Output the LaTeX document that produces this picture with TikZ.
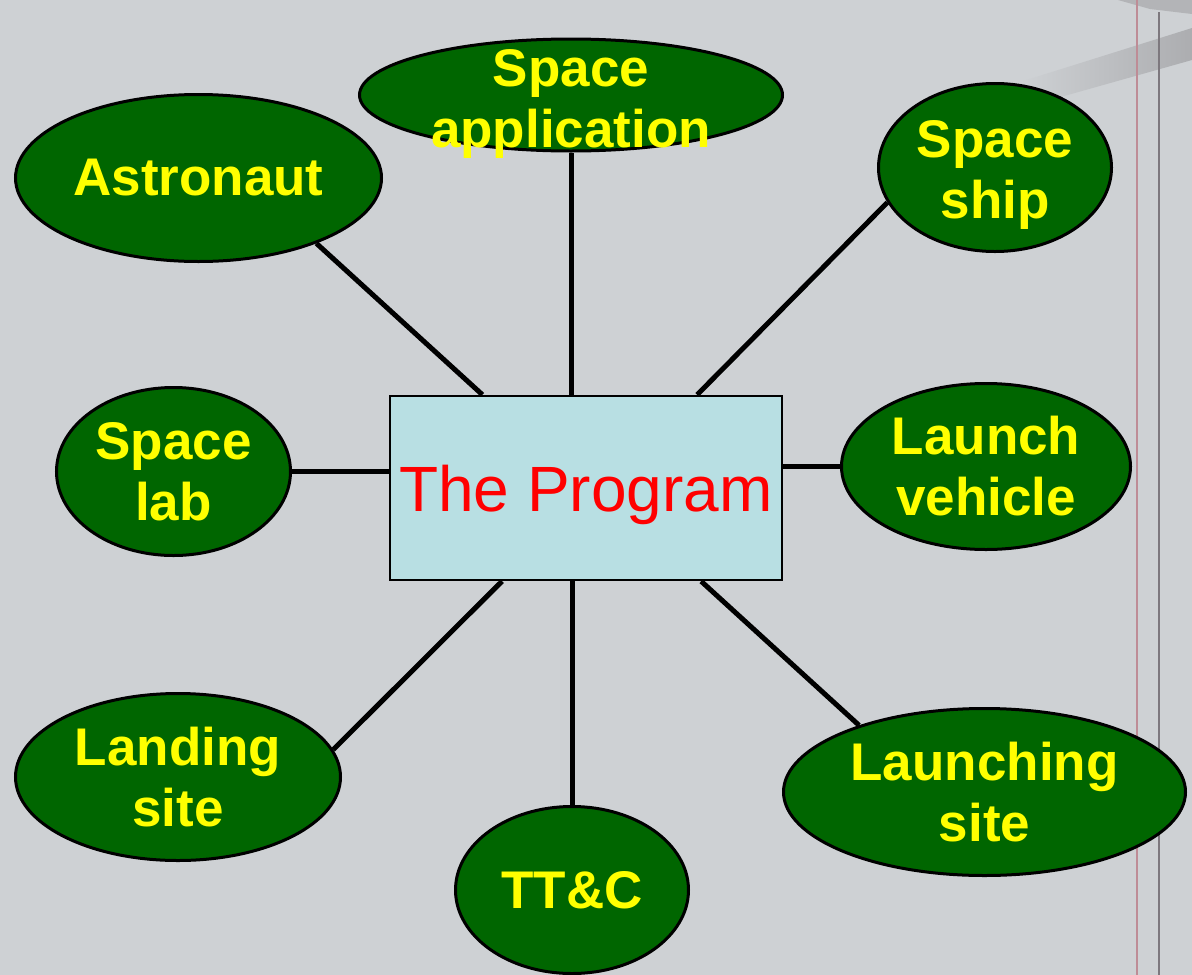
\documentclass[tikz,border=0pt]{standalone}
\usepackage{fontspec}
\setmainfont{Liberation Sans}
\usetikzlibrary{shapes.geometric}

\definecolor{bg}{RGB}{206,209,212}
\definecolor{leaf}{RGB}{0,102,0}
\definecolor{core}{RGB}{184,223,227}
\definecolor{ink}{RGB}{255,255,0}
\definecolor{rule1}{RGB}{190,140,150}
\definecolor{rule2}{RGB}{125,120,126}
\definecolor{haze}{RGB}{172,173,176}

\begin{document}
\begin{tikzpicture}[x=1pt,y=-1pt,
  bubble/.style={ellipse, draw=black, line width=3pt, fill=leaf, text=ink,
    inner xsep=-20pt, inner ysep=-30pt, align=center,
    font=\fontsize{53}{61}\selectfont\bfseries},
  hub/.style={draw=black, line width=2.5pt, fill=core, inner sep=0pt,
    text=red, text depth=0pt, font=\fontsize{64}{74}\selectfont},
  link/.style={line width=5pt, draw=black}]

% backdrop
\fill[bg] (0,0) rectangle (1192,975);
\useasboundingbox (0,0) rectangle (1192,975);
\shade[left color=bg, right color=haze] (1020,82) -- (1192,28) -- (1192,60) -- (1050,100) -- cycle;
\fill[haze!80!bg] (1118,0) -- (1192,0) -- (1192,14) -- (1150,9) -- cycle;
\draw[line width=2pt, rule1] (1137,0) -- (1137,975);
\draw[line width=1.5pt, rule2] (1159,12) -- (1159,975);

% central box
\node[hub, minimum width=392pt, minimum height=184pt] (prog) at (586,488) {The Program};

% surrounding topics (invisible struts lower the text block a little)
\node[bubble, minimum width=423pt, minimum height=112pt] (sapp) at (571,95) {\rule{0pt}{54pt}Space\\application};
\node[bubble, minimum width=366pt, minimum height=167pt] (astro) at (198.5,178) {Astronaut};
\node[bubble, minimum width=233pt, minimum height=168pt] (sship) at (995,167.5) {\rule{0pt}{52pt}Space\\ship};
\node[bubble, minimum width=234pt, minimum height=168pt] (slab) at (173.5,471.5) {Space\\lab};
\node[bubble, minimum width=289pt, minimum height=166pt] (lveh) at (986,466.5) {Launch\\vehicle};
\node[bubble, minimum width=325pt, minimum height=167pt] (lsite) at (178,777) {Landing\\site};
\node[bubble, minimum width=233pt, minimum height=167pt] (ttc) at (572,890) {TT\&C};
\node[bubble, minimum width=402pt, minimum height=167pt] (lchs) at (984.5,792) {Launching\\site};

% connectors
\draw[link] (sapp.south) -- (sapp.south |- prog.north);
\draw[link] (ttc.north) -- (ttc.north |- prog.south);
\draw[link] (slab.east) -- (slab.east -| prog.west);
\draw[link] (lveh.west) -- (lveh.west -| prog.east);
\draw[link] (astro.-29.9) -- (prog.138.7);
\draw[link] (sship.198.8) -- (prog.40.5);
\draw[link] (lsite.10.6) -- (prog.-132.8);
\draw[link] (lchs.152.6) -- (prog.-39.2);
\end{tikzpicture}
\end{document}
